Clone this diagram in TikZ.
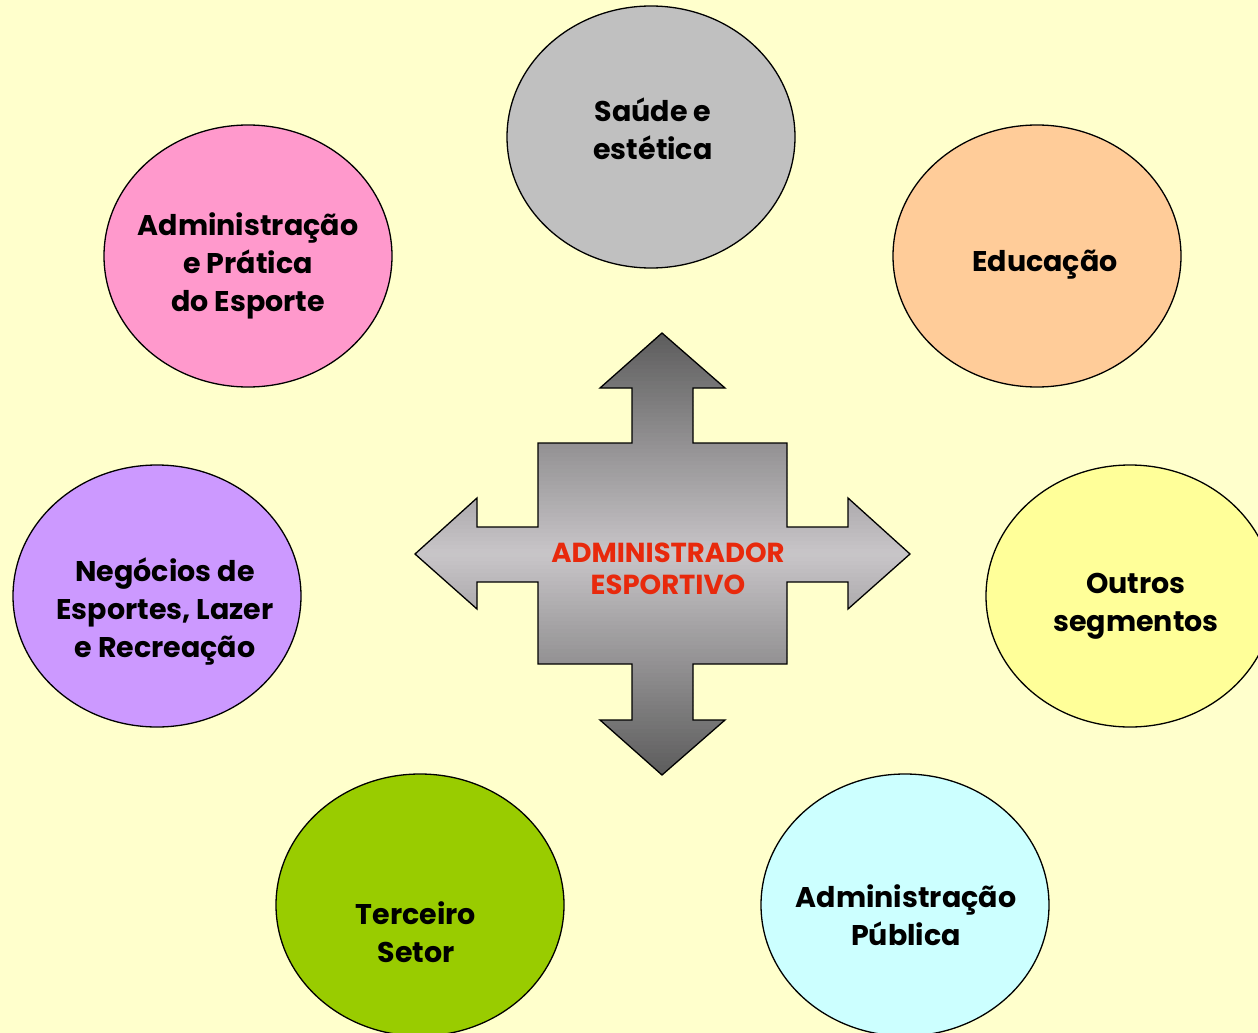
\documentclass[tikz,border=0pt]{standalone}
\usepackage{fontspec}
\setmainfont{Poppins}
\usetikzlibrary{shapes.geometric}
\definecolor{bgyellow}{HTML}{FFFFCC}
\definecolor{cgray}{HTML}{C0C0C0}
\definecolor{cpink}{HTML}{FF99CC}
\definecolor{corange}{HTML}{FFCC99}
\definecolor{cviolet}{HTML}{CC99FF}
\definecolor{cyellow}{HTML}{FFFF99}
\definecolor{cgreen}{HTML}{99CC00}
\definecolor{ccyan}{HTML}{CCFFFF}
\definecolor{cred}{HTML}{E8290C}
\definecolor{adark}{HTML}{5C5C5C}
\definecolor{alight}{HTML}{C8C5C8}
\tikzset{
  bubble/.style={ellipse, draw=black, line width=1.3pt, minimum width=288pt, minimum height=262pt, inner sep=0pt},
  label/.style={align=center, font=\bfseries\fontsize{28.5}{38}\selectfont, text=black, inner sep=0pt},
  centerlabel/.style={align=center, font=\bfseries\fontsize{27.5}{32}\selectfont, text=cred, inner sep=0pt},
}
\begin{document}
\begin{tikzpicture}[x=1pt,y=-1pt]
\useasboundingbox (0,0) rectangle (1258,1033);
\clip (0,0) rectangle (1258,1033);
\fill[bgyellow] (0,0) rectangle (1258,1033);

\node[bubble, fill=cgray]   (saude)   at (651,137) {};
\node[bubble, fill=cpink]   (pratica) at (248,256) {};
\node[bubble, fill=corange] (educ)    at (1037,256) {};
\node[bubble, fill=cviolet] (negoc)   at (157,596) {};
\node[bubble, fill=cyellow] (outros)  at (1130,596) {};
\node[bubble, fill=cgreen]  (terc)    at (420,905) {};
\node[bubble, fill=ccyan]   (publ)    at (905,905) {};

\node[label] (tsaude)   at (653,129) {Saúde e\\estética};
\node[label] (tpratica) at (248,266) {Administração\\ e Prática\\do Esporte};
\node[label] (teduc)    at (1045,265) {Educação};
\node[label] (tnegoc)   at (165,611) {Negócios de\\Esportes, Lazer\\e Recreação};
\node[label] (toutros)  at (1136,606) {Outros\\segmentos};
\node[label] (tterc)    at (416,932) {Terceiro\\Setor};
\node[label] (tpubl)    at (906,915) {Administração\\Pública};

\def\arrowpath{(662,333) -- (725,388) -- (693,388) -- (693,443) -- (787,443) -- (787,527)
  -- (848,527) -- (848,498) -- (910,554) -- (848,609) -- (848,582) -- (787,582)
  -- (787,664) -- (693,664) -- (693,720) -- (725,720) -- (662,775) -- (600,720)
  -- (632,720) -- (632,664) -- (538,664) -- (538,582) -- (477,582) -- (477,609)
  -- (415,554) -- (477,498) -- (477,527) -- (538,527) -- (538,443) -- (632,443)
  -- (632,388) -- (600,388) -- cycle}
\begin{scope}
  \clip \arrowpath;
  \foreach \i in {0,...,110} {
    \pgfmathsetmacro{\ya}{333+\i*4}
    \pgfmathsetmacro{\yb}{\ya+5}
    \pgfmathsetmacro{\t}{min(100,abs(\ya+2-554)/221*100)}
    \fill[adark!\t!alight] (410,\ya) rectangle (915,\yb);
  }
\end{scope}
\draw[black, line width=1.3pt, line join=miter] \arrowpath;
\node[centerlabel] (center) at (668,569) {ADMINISTRADOR\\ESPORTIVO};
\end{tikzpicture}
\end{document}
